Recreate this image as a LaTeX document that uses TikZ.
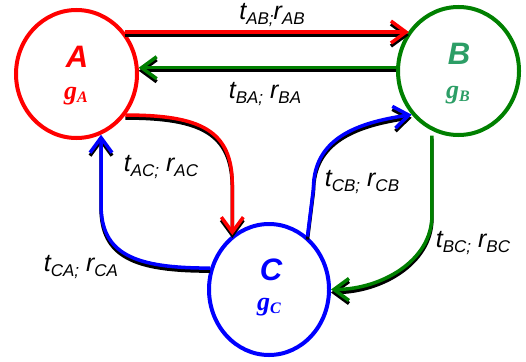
\documentclass[tikz,border=0pt]{standalone}
\usepackage{fontspec}
\setmainfont{Liberation Sans}
\newfontfamily\gfont{Liberation Serif}
\usetikzlibrary{shapes.geometric,arrows.meta}

\definecolor{nodered}{RGB}{255,0,0}
\definecolor{nodegreen}{RGB}{0,128,0}
\definecolor{lettergreen}{RGB}{44,158,102}
\definecolor{nodeblue}{RGB}{0,0,255}

% rate label: t_{xy;} r_{xy}
\newcommand\ratelabel[4]{\fontsize{25}{25}\selectfont\itshape
  #1\raisebox{-5pt}{\fontsize{17}{17}\selectfont #2}#3\raisebox{-5pt}{\fontsize{17}{17}\selectfont #4}}
% growth label g_x
\newcommand\growth[1]{\gfont\bfseries\itshape\fontsize{26}{26}\selectfont
  g\raisebox{-3pt}{\fontsize{16}{16}\selectfont #1}}
% a transition drawn with its black drop shadow beneath
\newcommand\shadowflow[2]{%
  \begin{scope}[transform canvas={yshift=-3pt}]\draw[flow, black] #2;\end{scope}
  \draw[flow, #1] #2;}

\tikzset{
  state/.style={ellipse, draw, line width=4pt, minimum width=121pt, minimum height=128pt, inner sep=0pt},
  statename/.style={font=\fontsize{31}{31}\selectfont\bfseries\itshape, inner sep=0pt},
  growthlabel/.style={inner sep=0pt},
  ratetext/.style={inner sep=0pt, text=black},
  flow/.style={line width=3.5pt, -{Straight Barb[length=15pt,width=22pt]}},
}

\begin{document}
\begin{tikzpicture}[x=1pt,y=-1pt]
\useasboundingbox (0,0) rectangle (526,361);

% states
\node[state, draw=nodered] (A) at (76.5,74) {};
\node[state, draw=nodegreen] (B) at (458.5,71) {};
\node[state, draw=nodeblue, minimum width=120pt, minimum height=131pt] (C) at (269,289.5) {};

\node[statename, text=nodered] (An) at (77,57) {A};
\node[growthlabel, text=nodered] (Ag) at (76,96) {\growth{A}};
\node[statename, text=lettergreen] (Bn) at (459,54) {B};
\node[growthlabel, text=lettergreen] (Bg) at (458,95) {\growth{B}};
\node[statename, text=nodeblue] (Cn) at (271,270) {C};
\node[growthlabel, text=nodeblue] (Cg) at (269,307) {\growth{C}};

% transitions
\shadowflow{nodered}{(A.41) -- (A.41 -| B.141)}
\shadowflow{nodegreen}{(B.177) -- (B.177 -| A.6)}
\shadowflow{nodered}{(A.-40) .. controls +(75,0) and +(0,-55) .. ([yshift=50pt]C.124) -- (C.124)}
\shadowflow{nodeblue}{(C.160) .. controls +(-75,0) and +(0,50) .. ([yshift=-70pt]A.-68) -- (A.-68)}
\shadowflow{nodeblue}{(C.54) -- ++(6,-48) .. controls +(0,-50) and +(-55,8) .. (B.-137)}
\shadowflow{nodegreen}{([yshift=-5pt]B.-114) -- ++(0,80) .. controls +(0,45) and +(50,0) .. (C.0)}

% rate labels
\node[ratetext] (lAB) at (272,15) {\ratelabel{t}{AB;}{r}{AB}};
\node[ratetext] (lBA) at (265,94) {\ratelabel{t}{BA;}{\ r}{BA}};
\node[ratetext] (lAC) at (161,167) {\ratelabel{t}{AC;}{\ r}{AC}};
\node[ratetext] (lCB) at (362,182) {\ratelabel{t}{CB;}{\ r}{CB}};
\node[ratetext] (lCA) at (81,267) {\ratelabel{t}{CA;}{\ r}{CA}};
\node[ratetext] (lBC) at (473,243) {\ratelabel{t}{BC;}{\ r}{BC}};
\end{tikzpicture}
\end{document}
